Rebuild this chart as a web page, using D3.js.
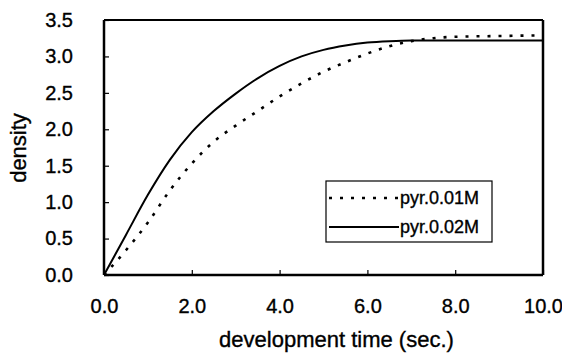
<!DOCTYPE html>
<html>
<head>
<meta charset="utf-8">
<script src="https://d3js.org/d3.v7.min.js"></script>
<style>
  body { margin: 0; background: #fff; }
  text { font-family: "Liberation Sans", Arial, sans-serif; fill: #000; stroke: #000; stroke-width: 0.35px; }
</style>
</head>
<body>
<div id="chart"></div>
<script>
// ---------------- data ----------------
var timeValues = [0, 0.5, 1.0, 1.5, 2.0, 2.5, 3.0, 3.5, 4.0, 4.5, 5.0, 5.5, 6.0, 6.5, 7.0, 7.5, 8.0, 9.0, 10.0];
var pyr001 = [0, 0.34, 0.72, 1.16, 1.53, 1.83, 2.05, 2.25, 2.45, 2.63, 2.79, 2.92, 3.04, 3.14, 3.21, 3.25, 3.27, 3.28, 3.29];
var pyr002 = [0, 0.55, 1.10, 1.58, 1.96, 2.25, 2.49, 2.70, 2.87, 3.00, 3.09, 3.15, 3.19, 3.21, 3.22, 3.22, 3.22, 3.22, 3.22];
var seriesNames = ["pyr.0.01M", "pyr.0.02M"];
var xTicks = [0, 2, 4, 6, 8, 10];
var yTicks = [0, 0.5, 1.0, 1.5, 2.0, 2.5, 3.0, 3.5];

// ---------------- canvas ----------------
var margin = {left: 104, right: 19, top: 20, bottom: 87};
var svgWidth = 562, svgHeight = 362;
var w = svgWidth - margin.left - margin.right,
    h = svgHeight - margin.top - margin.bottom;

var svg = d3.select("#chart").append("svg")
    .attr("width", svgWidth)
    .attr("height", svgHeight);

var g = svg.append("g")
    .attr("transform", `translate(${margin.left}, ${margin.top})`);

// scales
var x = d3.scaleLinear().domain([0, 10]).range([0, w]);
var y = d3.scaleLinear().domain([0, 3.5]).range([h, 0]);

// frame
g.append("line").attr("x1", 0).attr("x2", w).attr("y1", 0).attr("y2", 0)
  .attr("stroke", "#000").attr("stroke-width", 2);
g.append("line").attr("x1", w).attr("x2", w).attr("y1", 0).attr("y2", h)
  .attr("stroke", "#000").attr("stroke-width", 2.5);

// axes (ticks pointing inward)
var xAxis = d3.axisBottom(x).tickValues(xTicks).tickSize(-5).tickPadding(24)
    .tickFormat(d3.format(".1f"));
var yAxis = d3.axisLeft(y).tickValues(yTicks).tickSize(-5).tickPadding(31)
    .tickFormat(d3.format(".1f"));

var gx = g.append("g").attr("transform", `translate(0, ${h})`).call(xAxis);
var gy = g.append("g").call(yAxis);

[gx, gy].forEach(function(a) {
  a.select(".domain").attr("stroke", "#000").attr("stroke-width", 2.5);
  a.selectAll(".tick line").attr("stroke", "#000").attr("stroke-width", 1.2);
  a.selectAll(".tick text")
    .style("font-family", "'Liberation Sans', Arial, sans-serif")
    .style("font-size", "20px")
    .attr("fill", "#000");
});
gx.select(".domain").attr("d", `M0,0H${w}`);
gy.select(".domain").attr("d", `M0,${h}V0`);
gx.selectAll(".tick text").attr("dy", "0.71em");

// curves
var line = d3.line()
    .x(function(d) { return x(d[0]); })
    .y(function(d) { return y(d[1]); })
    .curve(d3.curveMonotoneX);

var data001 = timeValues.map(function(t, i) { return [t, pyr001[i]]; });
var data002 = timeValues.map(function(t, i) { return [t, pyr002[i]]; });

g.append("path").datum(data001)
  .attr("d", line)
  .attr("fill", "none")
  .attr("stroke", "#000")
  .attr("stroke-width", 2.6)
  .attr("stroke-dasharray", "3,8");

g.append("path").datum(data002)
  .attr("d", line)
  .attr("fill", "none")
  .attr("stroke", "#000")
  .attr("stroke-width", 2);

// legend
var legend = svg.append("g").attr("transform", "translate(326, 181)");
legend.append("rect")
  .attr("width", 166).attr("height", 61)
  .attr("fill", "#fff").attr("stroke", "#000").attr("stroke-width", 1.2);

var rows = [{dash: "3,8", sw: 2.6, yy: 17}, {dash: null, sw: 2, yy: 46}];
rows.forEach(function(r, i) {
  legend.append("line")
    .attr("x1", 3).attr("x2", 73).attr("y1", r.yy).attr("y2", r.yy)
    .attr("stroke", "#000").attr("stroke-width", r.sw)
    .attr("stroke-dasharray", r.dash);
  legend.append("text")
    .attr("x", 74).attr("y", r.yy + 6)
    .style("font-size", "18px")
    .text(seriesNames[i]);
});

// axis titles
svg.append("text")
  .attr("x", margin.left + w / 2 + 13)
  .attr("y", 347)
  .attr("text-anchor", "middle")
  .style("font-size", "22px")
  .text("development time (sec.)");

svg.append("text")
  .attr("transform", "translate(26, 148) rotate(-90)")
  .attr("text-anchor", "middle")
  .style("font-size", "22px")
  .text("density");
</script>
</body>
</html>
